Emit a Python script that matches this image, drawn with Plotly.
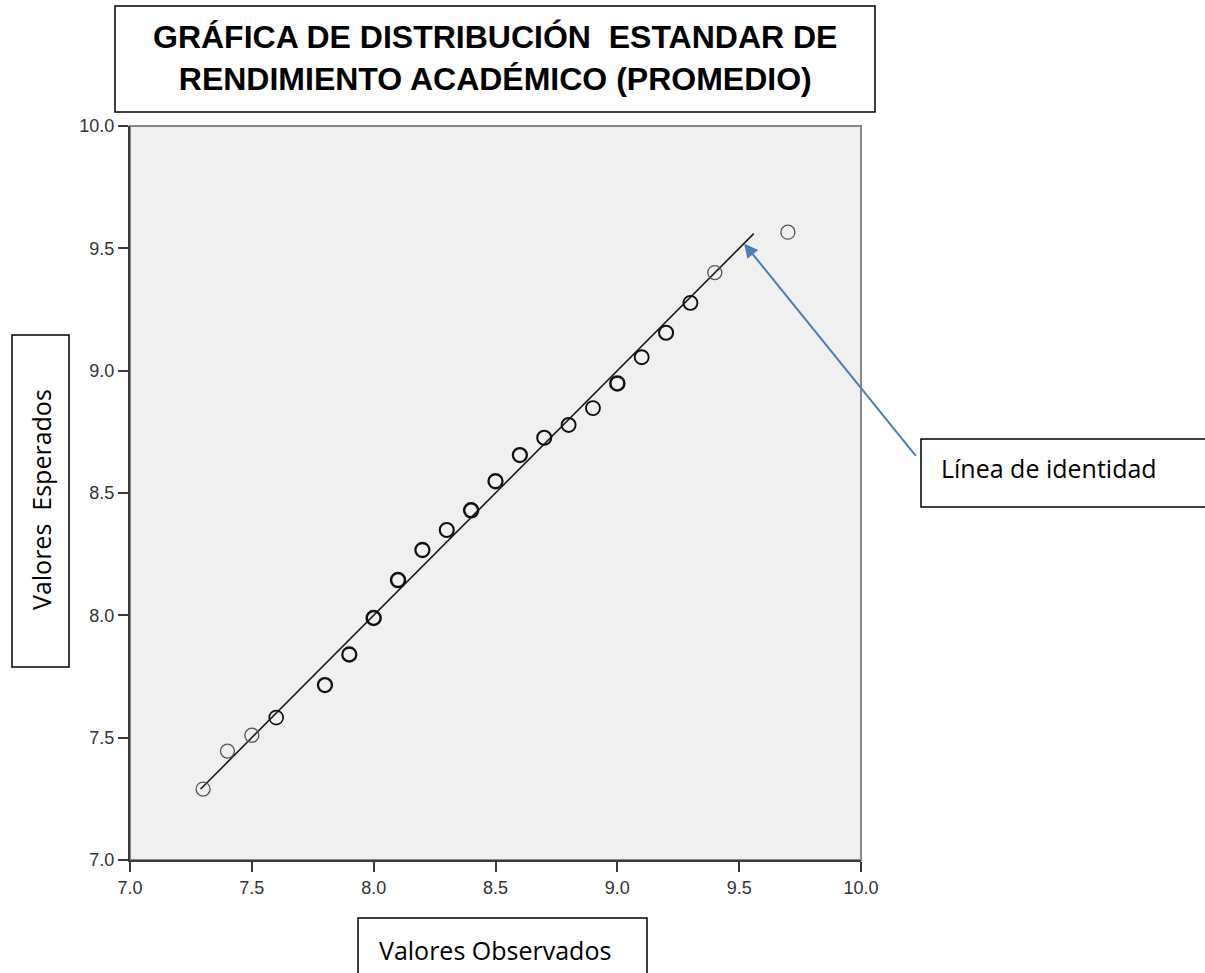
import plotly.graph_objects as go

# Valores observados (promedio) y valores esperados bajo la distribución normal
observados = [7.3, 7.4, 7.5, 7.6, 7.8, 7.9, 8.0, 8.1, 8.2, 8.3, 8.4,
              8.5, 8.6, 8.7, 8.8, 8.9, 9.0, 9.1, 9.2, 9.3, 9.4, 9.7]
esperados = [7.290, 7.445, 7.510, 7.582, 7.715, 7.840, 7.989, 8.144, 8.267, 8.349, 8.429,
             8.548, 8.655, 8.726, 8.778, 8.847, 8.948, 9.055, 9.155, 9.277, 9.401, 9.566]

# Extremos de la línea de identidad (y = x)
linea_identidad = [7.29, 9.56]

ticks = [7.0, 7.5, 8.0, 8.5, 9.0, 9.5, 10.0]
tick_text = ["7.0", "7.5", "8.0", "8.5", "9.0", "9.5", "10.0"]

titulo = "GRÁFICA DE DISTRIBUCIÓN  ESTANDAR DE<br>RENDIMIENTO ACADÉMICO (PROMEDIO)"
etiqueta_y = "Valores  Esperados"
etiqueta_x = "Valores Observados"
etiqueta_linea = "Línea de identidad"

# Layout geometry (pixels)
W, H = 1205, 973
ML, MR, MT, MB = 130, 344, 126, 113
PW, PH = W - ML - MR, H - MT - MB


def px(x):
    return (x - ML) / PW


def py(y):
    return (H - MB - y) / PH


# Stroke weight of each circle (overlapping cases look darker)
grosor = [1.3, 1.3, 1.3, 1.6, 2.3, 2.3, 2.5, 2.5, 2.3, 2.1, 2.5,
          2.3, 2.3, 2.1, 1.9, 1.9, 2.5, 1.9, 2.1, 1.9, 1.3, 1.3]
color_borde = ["#555555" if g < 1.5 else "#111111" for g in grosor]

fig = go.Figure()

fig.add_trace(go.Scatter(
    x=linea_identidad, y=linea_identidad, mode="lines",
    line=dict(color="#1a1a1a", width=1.6), hoverinfo="skip", showlegend=False,
))

fig.add_trace(go.Scatter(
    x=observados, y=esperados, mode="markers",
    marker=dict(symbol="circle-open", size=14, color=color_borde,
                line=dict(width=grosor, color=color_borde)),
    showlegend=False,
))

axis_common = dict(
    range=[7.0, 10.0], tickvals=ticks, ticktext=tick_text,
    showgrid=False, zeroline=False,
    showline=True, linecolor="#3a3a3a", linewidth=2,
    ticks="outside", ticklen=10, tickwidth=2, tickcolor="#3a3a3a",
    tickfont=dict(family="Liberation Sans, Arial, sans-serif", size=18, color="#333333"),
)

fig.update_layout(
    width=W, height=H,
    margin=dict(l=ML, r=MR, t=MT, b=MB),
    paper_bgcolor="white", plot_bgcolor="#F0F0F0",
    xaxis=axis_common, yaxis=axis_common,
    showlegend=False,
)

shapes = [
    # top/right frame of the plot area
    dict(type="rect", xref="paper", yref="paper", x0=0, x1=1, y0=0, y1=1,
         line=dict(color="#8a8a8a", width=2), layer="below"),
    # title box
    dict(type="rect", xref="paper", yref="paper", x0=px(115), x1=px(875), y0=py(112), y1=py(6),
         line=dict(color="black", width=1.5), fillcolor="white"),
    # y label box
    dict(type="rect", xref="paper", yref="paper", x0=px(12), x1=px(69), y0=py(667), y1=py(335),
         line=dict(color="black", width=1.5)),
    # x label box
    dict(type="rect", xref="paper", yref="paper", x0=px(358), x1=px(647), y0=py(990), y1=py(918),
         line=dict(color="black", width=1.5)),
    # identity-line callout box
    dict(type="rect", xref="paper", yref="paper", x0=px(921), x1=px(1220), y0=py(507), y1=py(439),
         line=dict(color="black", width=1.5)),
]
fig.update_layout(shapes=shapes)

label_font = dict(family="Open Sans, Noto Sans, sans-serif", size=25, color="black")

fig.add_annotation(
    text=titulo, xref="paper", yref="paper", x=px(495), y=py(58),
    xanchor="center", yanchor="middle", showarrow=False, align="center",
    font=dict(family="Liberation Sans, Arial, sans-serif", size=32, color="black",
              weight="bold"),
)
fig.add_annotation(
    text=etiqueta_y, xref="paper", yref="paper", x=px(41), y=py(500),
    xanchor="center", yanchor="middle", showarrow=False, textangle=-90, font=label_font,
)
fig.add_annotation(
    text=etiqueta_x, xref="paper", yref="paper", x=px(377), y=py(950),
    xanchor="left", yanchor="middle", showarrow=False, font=label_font,
)
fig.add_annotation(
    text=etiqueta_linea, xref="paper", yref="paper", x=px(939), y=py(468),
    xanchor="left", yanchor="middle", showarrow=False, font=label_font,
)

# Arrow pointing to the identity line
fig.add_annotation(
    x=9.52, y=9.52, xref="x", yref="y", text="",
    showarrow=True, ax=173, ay=214, axref="pixel", ayref="pixel",
    arrowhead=2, arrowsize=1.4, arrowwidth=2, arrowcolor="#4A7EBB", standoff=0,
)

fig.write_html("out.html")
